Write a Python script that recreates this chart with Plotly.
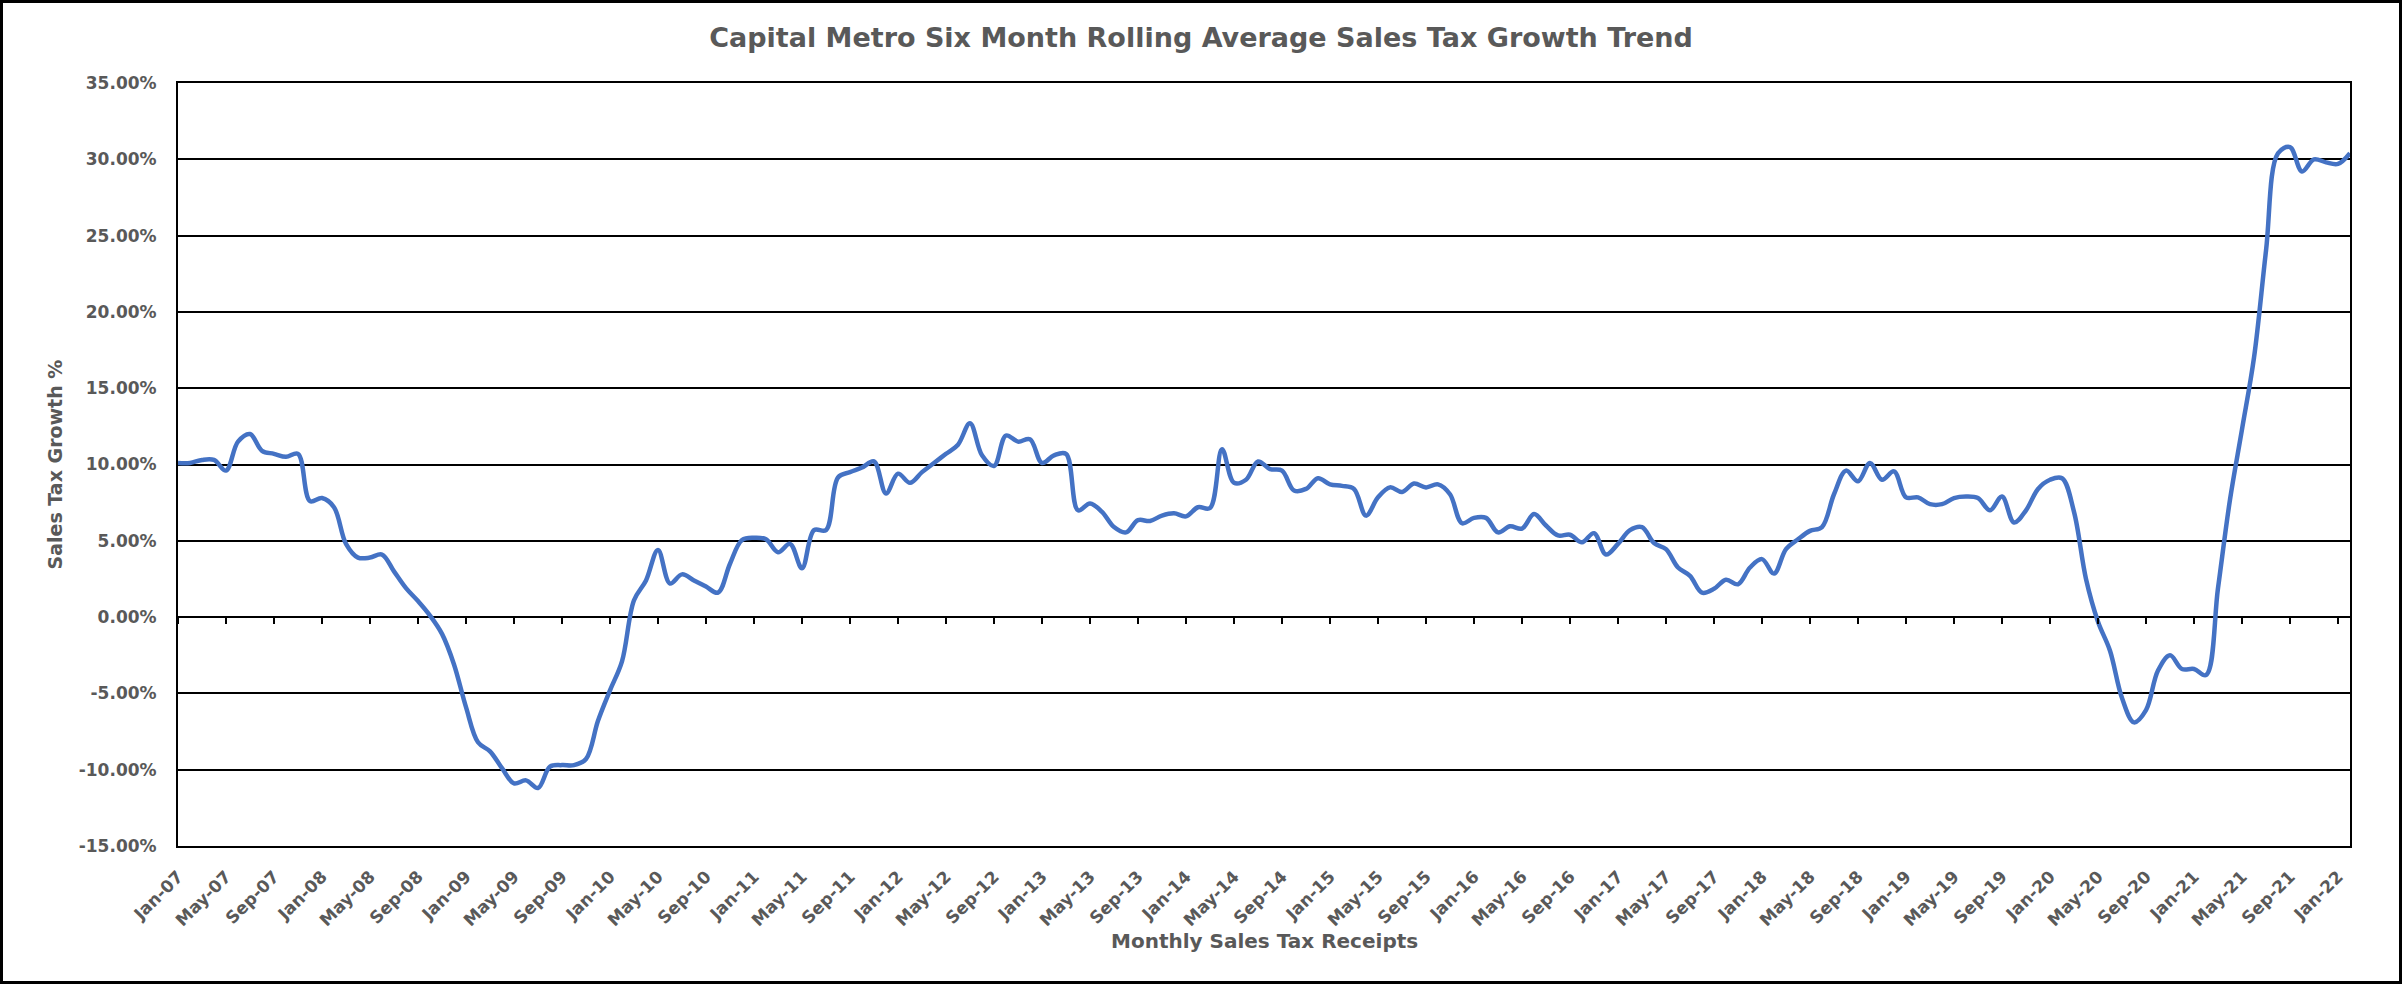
import plotly.graph_objects as go

# ---------------- data ----------------
month_labels = [f"{m}-{y:02d}" for y in range(7, 23) for m in ("Jan", "Feb", "Mar", "Apr", "May", "Jun",
                                                              "Jul", "Aug", "Sep", "Oct", "Nov", "Dec")][:182]

growth_pct = [
    10.1, 10.1, 10.3, 10.3, 9.6, 11.5, 12.0, 10.9, 10.7, 10.5, 10.7, 7.6,      # 2007
    7.8, 7.2, 4.8, 3.9, 3.9, 4.1, 3.0, 1.9, 1.05, 0.1, -1.1, -3.1,             # 2008
    -5.9, -8.2, -8.8, -9.9, -10.9, -10.7, -11.2, -9.8, -9.7, -9.7, -9.3, -6.8,  # 2009
    -4.8, -2.9, 1.1, 2.4, 4.4, 2.2, 2.8, 2.4, 2.0, 1.6, 3.5, 5.05,             # 2010
    5.2, 5.1, 4.25, 4.8, 3.2, 5.7, 5.7, 9.15, 9.5, 9.8, 10.2, 8.1,             # 2011
    9.4, 8.8, 9.5, 10.1, 10.7, 11.3, 12.7, 10.6, 9.9, 11.9, 11.5, 11.65,       # 2012
    10.1, 10.6, 10.7, 7.0, 7.45, 6.9, 5.9, 5.55, 6.35, 6.3, 6.65, 6.8,         # 2013
    6.6, 7.2, 7.15, 11.0, 8.8, 9.0, 10.2, 9.7, 9.6, 8.3, 8.4, 9.1,             # 2014
    8.7, 8.6, 8.4, 6.65, 7.85, 8.5, 8.2, 8.75, 8.5, 8.7, 8.05, 6.15,           # 2015
    6.5, 6.5, 5.55, 5.95, 5.8, 6.75, 6.0, 5.35, 5.4, 4.9, 5.5, 4.1,            # 2016
    4.8, 5.7, 5.9, 4.85, 4.45, 3.25, 2.7, 1.6, 1.85, 2.45, 2.15, 3.25,         # 2017
    3.8, 2.85, 4.45, 5.1, 5.65, 5.9, 8.05, 9.6, 8.9, 10.1, 9.0, 9.55,          # 2018
    7.85, 7.85, 7.4, 7.4, 7.8, 7.9, 7.8, 7.0, 7.9, 6.2, 7.0, 8.4,              # 2019
    9.0, 9.1, 6.9, 2.5, -0.3, -2.2, -5.3, -6.9, -6.1, -3.5, -2.5, -3.4,        # 2020
    -3.4, -3.8, 1.9, 7.7, 12.3, 17.0, 24.0, 30.4, 30.8, 29.2, 30.0, 29.8,      # 2021
    29.7, 30.4,                                                                 # 2022
]

x_tick_step = 4
x_tick_vals = list(range(0, 181, x_tick_step))
x_tick_text = [month_labels[i] for i in x_tick_vals]

y_tick_vals = [-15, -10, -5, 0, 5, 10, 15, 20, 25, 30, 35]
y_tick_text = [f"{v:.2f}%" for v in y_tick_vals]

title_text = "Capital Metro Six Month Rolling Average Sales Tax Growth Trend"
x_title = "Monthly Sales Tax Receipts"
y_title = "Sales Tax Growth %"

# ---------------- layout constants ----------------
W, H = 2402, 984
ML, MR, MT, MB = 178, 52, 83, 138
PW, PH = W - ML - MR, H - MT - MB
TXT = "#595959"
FONT = "DejaVu Sans"
y_min, y_max = y_tick_vals[0], y_tick_vals[-1]


def px_to_paper_x(px):
    return (px - ML) / PW


def px_to_paper_y(py):
    return (H - MB - py) / PH


months = list(range(len(growth_pct)))

fig = go.Figure()
fig.add_trace(go.Scatter(
    x=months, y=growth_pct, mode="lines",
    line=dict(color="#4472C4", width=4.5, shape="spline", smoothing=1),
    showlegend=False, hoverinfo="skip",
))
# invisible trace to carry the tick-mark axis sitting on the 0% line
fig.add_trace(go.Scatter(x=[], y=[], xaxis="x2", showlegend=False, hoverinfo="skip"))

fig.update_layout(
    width=W, height=H,
    margin=dict(l=ML, r=MR, t=MT, b=MB),
    paper_bgcolor="white", plot_bgcolor="white",
    font=dict(family=FONT, color=TXT),
    title=dict(text=title_text, x=0.5, xref="container", xanchor="center",
               y=1 - 38 / H, yref="container", yanchor="middle",
               font=dict(family=FONT, size=27, color=TXT, weight="bold")),
    xaxis=dict(
        range=[0, len(growth_pct) - 1], tickmode="array", tickvals=x_tick_vals, ticktext=x_tick_text,
        tickangle=-45, ticks="", showline=True, linecolor="black", linewidth=2, mirror=True,
        showgrid=False, zeroline=False, ticklabelstandoff=12,
        tickfont=dict(family=FONT, size=17, color=TXT, weight="bold"),
    ),
    xaxis2=dict(
        overlaying="x", anchor="free", position=(0 - y_min) / (y_max - y_min), side="bottom",
        range=[0, len(growth_pct) - 1], tickmode="array", tickvals=x_tick_vals,
        ticks="outside", ticklen=6, tickwidth=2, tickcolor="black",
        showticklabels=False, showline=False, showgrid=False, zeroline=False,
    ),
    yaxis=dict(
        range=[y_min, y_max], tickmode="array", tickvals=y_tick_vals, ticktext=y_tick_text,
        ticks="", showline=True, linecolor="black", linewidth=2, mirror=True,
        showgrid=True, gridcolor="black", gridwidth=2, zeroline=False, ticklabelstandoff=16,
        tickfont=dict(family=FONT, size=17, color=TXT, weight="bold"),
    ),
    annotations=[
        dict(text=x_title, xref="paper", yref="paper", x=0.5, y=px_to_paper_y(941),
             xanchor="center", yanchor="middle", showarrow=False,
             font=dict(family=FONT, size=20, color=TXT, weight="bold")),
        dict(text=y_title, xref="paper", yref="paper", x=px_to_paper_x(54), y=0.5,
             xanchor="center", yanchor="middle", showarrow=False, textangle=-90,
             font=dict(family=FONT, size=19, color=TXT, weight="bold")),
    ],
    shapes=[
        dict(type="rect", xref="paper", yref="paper",
             x0=px_to_paper_x(1.5), x1=px_to_paper_x(W - 1.5),
             y0=px_to_paper_y(H - 1.5), y1=px_to_paper_y(1.5),
             line=dict(color="black", width=3), fillcolor="rgba(0,0,0,0)", layer="above"),
    ],
)

fig.write_html("out.html")
